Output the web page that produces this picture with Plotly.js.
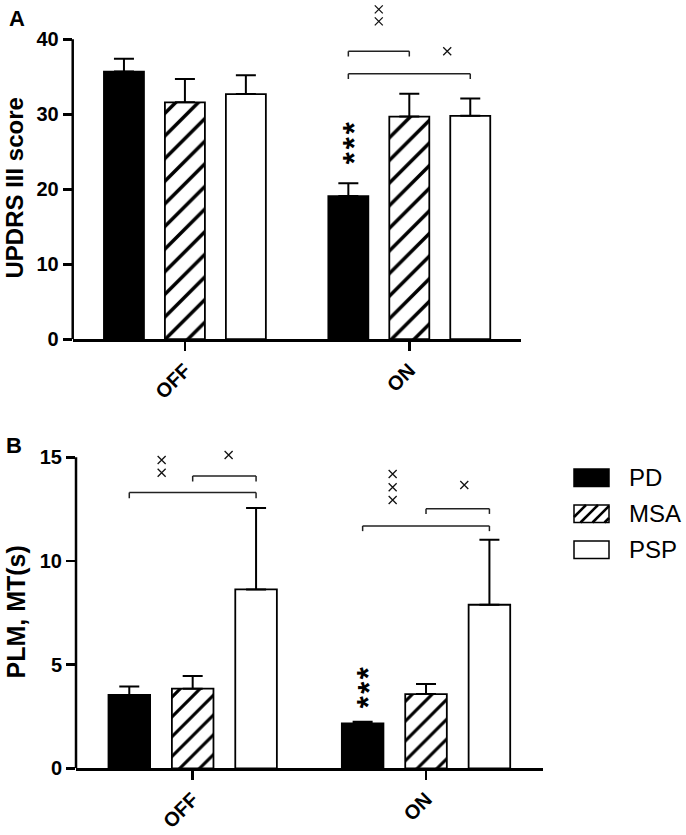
<!DOCTYPE html>
<html>
<head>
<meta charset="utf-8">
<script src="https://cdn.plot.ly/plotly-3.0.1.min.js"></script>
<style>html,body{margin:0;padding:0;background:#fff}#chart{width:686px;height:835px}</style>
</head>
<body>
<div id="chart"></div>
<script>
var conditions = ['OFF', 'ON'];
var conditionPos = [0, 1];
var groups = ['PD', 'MSA', 'PSP'];

// panel A: UPDRS III score, mean and upper error
var updrsPD = [35.7, 19.1];
var updrsMSA = [31.6, 29.7];
var updrsPSP = [32.7, 29.8];
var updrsPDerr = [1.7, 1.7];
var updrsMSAerr = [3.1, 3.05];
var updrsPSPerr = [2.5, 2.3];

// panel B: PLM, MT(s)
var plmPD = [3.54, 2.17];
var plmMSA = [3.84, 3.58];
var plmPSP = [8.63, 7.89];
var plmPDerr = [0.40, 0.07];
var plmMSAerr = [0.61, 0.49];
var plmPSPerr = [3.93, 3.14];

var ticksA = [0, 10, 20, 30, 40];
var ticksB = [0, 5, 10, 15];

// significance crosses (x = position on the condition axis)
var crossA_x = [0.864, 0.864, 1.169];
var crossA_y = [44.0, 42.4, 38.4];
var crossB_x = [-0.133, -0.133, 0.154, 0.857, 0.857, 0.857, 1.164];
var crossB_y = [14.87, 14.26, 15.11, 14.2, 13.56, 12.94, 13.67];

// *** above the PD ON bar
var starsA_y = [28.2, 26.2, 24.2];
var starsB_y = [4.62, 3.92, 3.22];

// brackets: [from group, to group, condition index, height, leg length]
var bracketsA = [[0, 1, 1, 38.4, 0.68], [0, 2, 1, 35.4, 0.7]];
var bracketsB = [[0, 2, 0, 13.3, 0.27], [1, 2, 0, 14.1, 0.26], [0, 2, 1, 11.69, 0.25], [1, 2, 1, 12.52, 0.25]];

var FONT = 'Liberation Sans, Arial, sans-serif';
var W = 686, H = 835;
var bargap = 0.185;
var slot = (1 - bargap) / 3;

function px(x) { return x / W; }
function py(y) { return 1 - y / H; }
function bold(s) { return {family: FONT, size: s, weight: 'bold', color: '#000'}; }

var outline = {color: '#000', width: 1.8};

function bars(name, vals, errs, xa, ya, hatch) {
  var marker = {color: name === 'PD' ? '#000' : '#fff', line: outline};
  if (name === 'MSA') {
    marker.pattern = {shape: '/', fgcolor: '#000', bgcolor: '#fff', size: hatch, solidity: 0.22};
  }
  return {
    type: 'bar', name: name, x: conditionPos, y: vals, xaxis: xa, yaxis: ya,
    marker: marker,
    error_y: {type: 'data', symmetric: false, array: errs, arrayminus: [0, 0],
      color: '#000', thickness: 2, width: 10},
    hoverinfo: 'skip'
  };
}

function crosses(xs, ys, xa, ya) {
  return {
    type: 'scatter', mode: 'markers', x: xs, y: ys, xaxis: xa, yaxis: ya,
    marker: {symbol: 'x-thin', size: 8, color: '#111', line: {width: 1.3, color: '#111'}},
    cliponaxis: false, hoverinfo: 'skip'
  };
}

var data = [
  bars('PD', updrsPD, updrsPDerr, 'x', 'y', 16),
  bars('MSA', updrsMSA, updrsMSAerr, 'x', 'y', 16),
  bars('PSP', updrsPSP, updrsPSPerr, 'x', 'y', 16),
  bars('PD', plmPD, plmPDerr, 'x2', 'y2', 14),
  bars('MSA', plmMSA, plmMSAerr, 'x2', 'y2', 14),
  bars('PSP', plmPSP, plmPSPerr, 'x2', 'y2', 14),
  crosses(crossA_x, crossA_y, 'x', 'y'),
  crosses(crossB_x, crossB_y, 'x2', 'y2')
];

var shapes = [];
var annotations = [];

// left axis lines stop at the top tick
shapes.push({type: 'line', xref: 'x domain', yref: 'y', x0: 0, x1: 0, y0: 0, y1: 40,
  line: {color: '#000', width: 2.5}});
shapes.push({type: 'line', xref: 'x2 domain', yref: 'y2', x0: 0, x1: 0, y0: 0, y1: 15,
  line: {color: '#000', width: 2.5}});

function addBrackets(list, xa, ya) {
  list.forEach(function (b) {
    var xl = conditionPos[b[2]] + (b[0] - 1) * slot;
    var xr = conditionPos[b[2]] + (b[1] - 1) * slot;
    var ln = {color: '#222', width: 1.5};
    shapes.push({type: 'line', xref: xa, yref: ya, x0: xl, x1: xr, y0: b[3], y1: b[3], line: ln});
    shapes.push({type: 'line', xref: xa, yref: ya, x0: xl, x1: xl, y0: b[3], y1: b[3] - b[4], line: ln});
    shapes.push({type: 'line', xref: xa, yref: ya, x0: xr, x1: xr, y0: b[3], y1: b[3] - b[4], line: ln});
  });
}
addBrackets(bracketsA, 'x', 'y');
addBrackets(bracketsB, 'x2', 'y2');

function addStars(ys, xa, ya) {
  ys.forEach(function (v) {
    annotations.push({xref: xa, yref: ya, x: conditionPos[1] - slot, y: v, text: '*', showarrow: false,
      xanchor: 'center', yanchor: 'middle', textangle: -90, xshift: 6,
      font: {family: FONT, size: 31, weight: 'bold', color: '#000'}});
  });
}
addStars(starsA_y, 'x', 'y');
addStars(starsB_y, 'x2', 'y2');

function label(x, y, text, font, angle, xanchor) {
  annotations.push({xref: 'paper', yref: 'paper', x: px(x), y: py(y), text: text,
    textangle: angle || 0, showarrow: false, xanchor: xanchor || 'center', yanchor: 'middle', font: font});
}
label(14, 188.5, 'UPDRS III score', bold(24), -90);
label(15, 612.5, 'PLM, MT(s)', bold(25), -90);
label(16.7, 18, 'A', bold(22));
label(14.5, 445, 'B', bold(22));

// legend drawn by hand so the swatches keep their size
var legX = 574, legW = 35, legH = 17.5, legTop = 469, legStep = 36;
groups.forEach(function (g, i) {
  var top = legTop + i * legStep, bot = top + legH;
  shapes.push({type: 'rect', xref: 'paper', yref: 'paper', x0: px(legX), x1: px(legX + legW),
    y0: py(bot), y1: py(top), fillcolor: g === 'PD' ? '#000' : '#fff',
    line: {color: '#000', width: 1.5}});
  if (g === 'MSA') {
    for (var c = legX - legH; c < legX + legW; c += 12) {
      var t0 = Math.max(0, legX - c), t1 = Math.min(legH, legX + legW - c);
      if (t1 - t0 < 1) continue;
      shapes.push({type: 'line', xref: 'paper', yref: 'paper',
        x0: px(c + t0), y0: py(bot - t0), x1: px(c + t1), y1: py(bot - t1),
        line: {color: '#000', width: 2.5}});
    }
  }
  label(627, top + legH / 2, g, {family: FONT, size: 24, color: '#000'}, 0, 'left');
});

var xcommon = {
  type: 'linear', range: [-0.5, 1.5], tickvals: conditionPos, ticktext: conditions,
  showline: true, linewidth: 2.5, linecolor: '#000',
  ticks: 'outside', ticklen: 9, tickwidth: 2.5, tickcolor: '#000', tickangle: -45,
  tickfont: bold(20), showgrid: false, zeroline: false, fixedrange: true
};
var ycommon = {
  ticks: 'outside', ticklen: 9, tickwidth: 2.5, tickcolor: '#000', tickfont: bold(20),
  showline: false, showgrid: false, zeroline: false, fixedrange: true
};

var layout = {
  width: W, height: H,
  margin: {l: 0, r: 0, t: 0, b: 0},
  paper_bgcolor: '#fff', plot_bgcolor: '#fff',
  showlegend: false,
  barmode: 'group', bargap: bargap, bargroupgap: 0.344,
  xaxis: Object.assign({}, xcommon, {domain: [0.106, 0.7602], anchor: 'y'}),
  yaxis: Object.assign({}, ycommon, {domain: [0.5937, 0.9978], anchor: 'x', range: [0, 45], tickvals: ticksA}),
  xaxis2: Object.assign({}, xcommon, {domain: [0.1108, 0.7911], anchor: 'y2'}),
  yaxis2: Object.assign({}, ycommon, {domain: [0.0799, 0.4771], anchor: 'x2', range: [0, 16], tickvals: ticksB}),
  shapes: shapes,
  annotations: annotations
};

Plotly.newPlot('chart', data, layout, {staticPlot: true});
</script>
</body>
</html>
